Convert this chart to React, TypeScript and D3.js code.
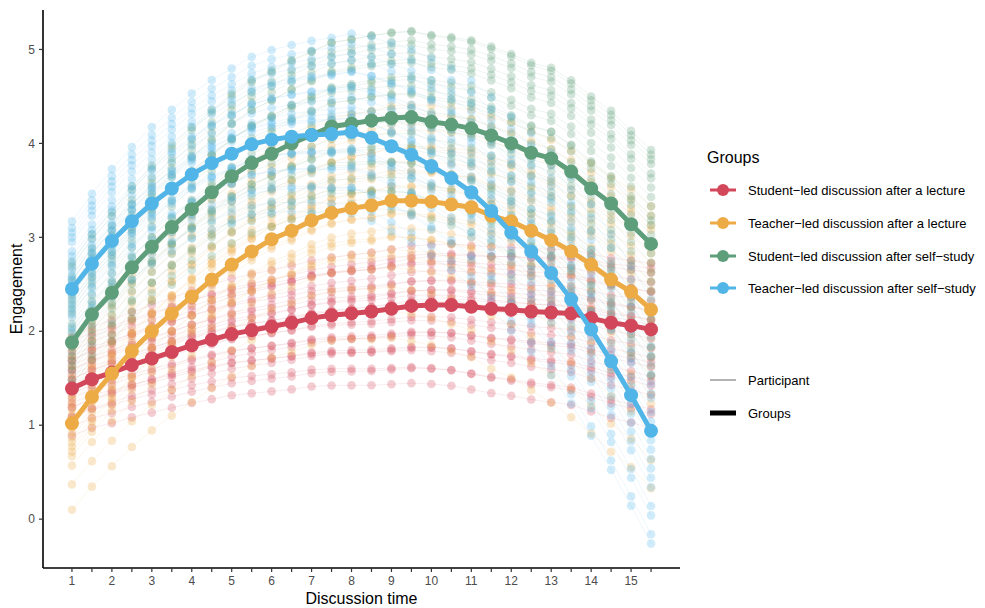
import React from "react";
import * as d3 from "d3";

// measurement occasions (every half unit of discussion time)
const times = [1, 1.5, 2, 2.5, 3, 3.5, 4, 4.5, 5, 5.5, 6, 6.5, 7, 7.5, 8, 8.5, 9, 9.5, 10, 10.5, 11, 11.5, 12, 12.5, 13, 13.5, 14, 14.5, 15, 15.5];
const xTickLabels = [1, 2, 3, 4, 5, 6, 7, 8, 9, 10, 11, 12, 13, 14, 15];
const yTicks = [0, 1, 2, 3, 4, 5];

const groupNames = [
  "Student\u2212led discussion after a lecture",
  "Teacher\u2212led discussion after a lecture",
  "Student\u2212led discussion after self\u2212study",
  "Teacher\u2212led discussion after self\u2212study",
];
const groupColors = ["#D2475A", "#EDAB45", "#5F9E7B", "#52B5E8"];

// group mean curves
const studentLecture = [1.39, 1.49, 1.56, 1.64, 1.71, 1.78, 1.85, 1.91, 1.97, 2.01, 2.05, 2.09, 2.14, 2.17, 2.19, 2.21, 2.24, 2.27, 2.28, 2.28, 2.26, 2.24, 2.23, 2.21, 2.2, 2.19, 2.14, 2.09, 2.06, 2.02];
const teacherLecture = [1.02, 1.3, 1.55, 1.79, 2.0, 2.19, 2.37, 2.55, 2.71, 2.85, 2.98, 3.07, 3.18, 3.26, 3.31, 3.34, 3.39, 3.39, 3.38, 3.35, 3.32, 3.23, 3.17, 3.07, 2.97, 2.85, 2.71, 2.55, 2.42, 2.23];
const studentSelf = [1.88, 2.18, 2.41, 2.68, 2.9, 3.11, 3.3, 3.48, 3.65, 3.79, 3.89, 4.0, 4.09, 4.18, 4.21, 4.245, 4.27, 4.28, 4.23, 4.2, 4.16, 4.085, 4.0, 3.9, 3.84, 3.7, 3.52, 3.36, 3.14, 2.93];
const teacherSelf = [2.45, 2.72, 2.96, 3.17, 3.36, 3.52, 3.67, 3.79, 3.89, 3.99, 4.04, 4.07, 4.09, 4.1, 4.12, 4.06, 3.97, 3.88, 3.76, 3.63, 3.48, 3.28, 3.05, 2.85, 2.62, 2.34, 2.02, 1.68, 1.32, 0.94];

// participant deviations from their group curve: [at start, at end]
const studentLectureParts = [[-0.5, -1.05], [-0.4, -0.85], [-0.3, -0.9], [-0.2, -0.6], [-0.15, -0.7], [-0.1, -0.4], [-0.05, -0.5], [0, -0.2], [0.05, -0.3], [0.1, 0], [0.1, 0.2], [0.15, -0.1], [0.2, 0.3], [0.25, 0.1], [0.3, 0.4], [0.35, 0.2], [0.4, 0.5], [0.45, 0.6], [0.5, 0.4], [0.55, 0.7], [-0.2, -0.35], [0, 0.1], [0.2, 0.05], [0.3, 0.65], [-0.3, -0.55]];
const teacherLectureParts = [[-0.92, -1.9], [-0.65, -1.6], [-0.45, -1.3], [-0.35, -1.0], [-0.3, -0.7], [-0.2, -0.9], [-0.15, -0.4], [-0.1, -0.6], [-0.05, -0.2], [0, 0], [0.05, -0.3], [0.1, 0.2], [0.15, 0.4], [0.2, 0.1], [0.3, 0.5], [0.35, 0.3], [0.4, 0.7], [0.5, 0.6], [0.6, 0.85], [0.7, 0.9], [0.8, 1.0], [0.9, 1.1], [0.25, -0.1], [-0.25, -0.5]];
const studentSelfParts = [[-0.45, -1.4], [-0.4, -1.1], [-0.3, -0.9], [-0.25, -1.2], [-0.2, -0.7], [-0.1, -0.5], [-0.05, -0.8], [0, -0.3], [0.05, -0.1], [0.1, 0.1], [0.15, -0.2], [0.2, 0.3], [0.3, 0.2], [0.35, 0.5], [0.4, 0.4], [0.5, 0.7], [0.55, 0.6], [0.6, 0.75], [0.65, 0.85], [0.7, 0.9], [0.8, 1.0], [0.85, 0.95], [0.45, 0.25], [-0.15, -0.4]];
const teacherSelfParts = [[-0.55, -1.2], [-0.45, -1.1], [-0.4, -0.8], [-0.3, -0.9], [-0.25, -0.5], [-0.2, -0.6], [-0.1, -0.3], [-0.05, -0.4], [0, 0], [0.05, -0.1], [0.1, 0.2], [0.15, 0.4], [0.2, 0.1], [0.25, 0.5], [0.3, 0.7], [0.35, 0.6], [0.4, 0.9], [0.5, 0.8], [0.55, 1.0], [0.6, 1.1], [0.65, 1.25], [0.72, 1.4], [0.1, 0.35], [-0.15, -0.2]];

const groupMeans = [studentLecture, teacherLecture, studentSelf, teacherSelf];
const groupParts = [studentLectureParts, teacherLectureParts, studentSelfParts, teacherSelfParts];

const W = 985;
const H = 608;
const FONT = "'Liberation Sans', Arial, sans-serif";

export default function App() {
  const left = 43, right = 680, top = 10, bottom = 568;
  const x = d3.scaleLinear().domain([0.275, 16.225]).range([left, right]);
  const y = d3.scaleLinear().domain([-0.52, 5.42]).range([bottom, top]);

  const line = d3
    .line<number>()
    .x((_, i) => x(times[i]))
    .y((d) => y(d));

  const n = times.length - 1;
  const participants = groupParts.map((parts, g) =>
    parts.map(([a, b]) => groupMeans[g].map((v, i) => v + a + ((b - a) * i) / n))
  );

  const legendY = [190, 223, 256, 288];

  return (
    <svg
      width={W}
      height={H}
      style={{ position: "absolute", left: 0, top: 0, background: "#fff" }}
      fontFamily={FONT}
    >
      {/* participant traces */}
      {participants.map((ps, g) =>
        ps.map((p, k) => (
          <g key={`p${g}-${k}`}>
            <path d={line(p) || ""} fill="none" stroke={groupColors[g]} strokeOpacity={0.18} strokeWidth={0.6} />
            {p.map((v, i) => (
              <circle key={i} cx={x(times[i])} cy={y(v)} r={4.3} fill={groupColors[g]} fillOpacity={0.27} />
            ))}
          </g>
        ))
      )}

      {/* group curves */}
      {groupMeans.map((m, g) => (
        <g key={`g${g}`}>
          <path d={line(m) || ""} fill="none" stroke={groupColors[g]} strokeWidth={5} />
          {m.map((v, i) => (
            <circle key={i} cx={x(times[i])} cy={y(v)} r={7} fill={groupColors[g]} />
          ))}
        </g>
      ))}

      {/* axes */}
      <line x1={left} x2={left} y1={top} y2={bottom} stroke="#000" strokeWidth={1.6} />
      <line x1={left} x2={right} y1={bottom} y2={bottom} stroke="#000" strokeWidth={1.6} />
      {yTicks.map((t) => (
        <g key={`y${t}`}>
          <line x1={left - 4} x2={left} y1={y(t)} y2={y(t)} stroke="#333" strokeWidth={1.2} />
          <text x={left - 8} y={y(t)} dy="0.35em" textAnchor="end" fontSize={12} fill="#4D4D4D">
            {t}
          </text>
        </g>
      ))}
      {times.map((t) => (
        <line key={`xt${t}`} x1={x(t)} x2={x(t)} y1={bottom} y2={bottom + 4} stroke="#333" strokeWidth={1.2} />
      ))}
      {xTickLabels.map((t) => (
        <text key={`xl${t}`} x={x(t)} y={bottom + 17} textAnchor="middle" fontSize={12} fill="#4D4D4D">
          {t}
        </text>
      ))}
      <text x={(left + right) / 2} y={604} textAnchor="middle" fontSize={16} fill="#000">
        Discussion time
      </text>
      <text transform={`translate(22,${(top + bottom) / 2}) rotate(-90)`} textAnchor="middle" fontSize={16} fill="#000">
        Engagement
      </text>

      {/* legend */}
      <text x={707} y={163} fontSize={16} fill="#000">Groups</text>
      {groupNames.map((name, g) => (
        <g key={`l${g}`}>
          <line x1={710} x2={736} y1={legendY[g]} y2={legendY[g]} stroke={groupColors[g]} strokeWidth={3} />
          <circle cx={723} cy={legendY[g]} r={6} fill={groupColors[g]} />
          <text x={748} y={legendY[g]} dy="0.35em" fontSize={13} fill="#000">
            {name}
          </text>
        </g>
      ))}
      <line x1={710} x2={736} y1={380} y2={380} stroke="#000" strokeWidth={0.6} />
      <text x={748} y={380} dy="0.35em" fontSize={13} fill="#000">Participant</text>
      <line x1={710} x2={736} y1={413} y2={413} stroke="#000" strokeWidth={5} />
      <text x={748} y={413} dy="0.35em" fontSize={13} fill="#000">Groups</text>
    </svg>
  );
}
